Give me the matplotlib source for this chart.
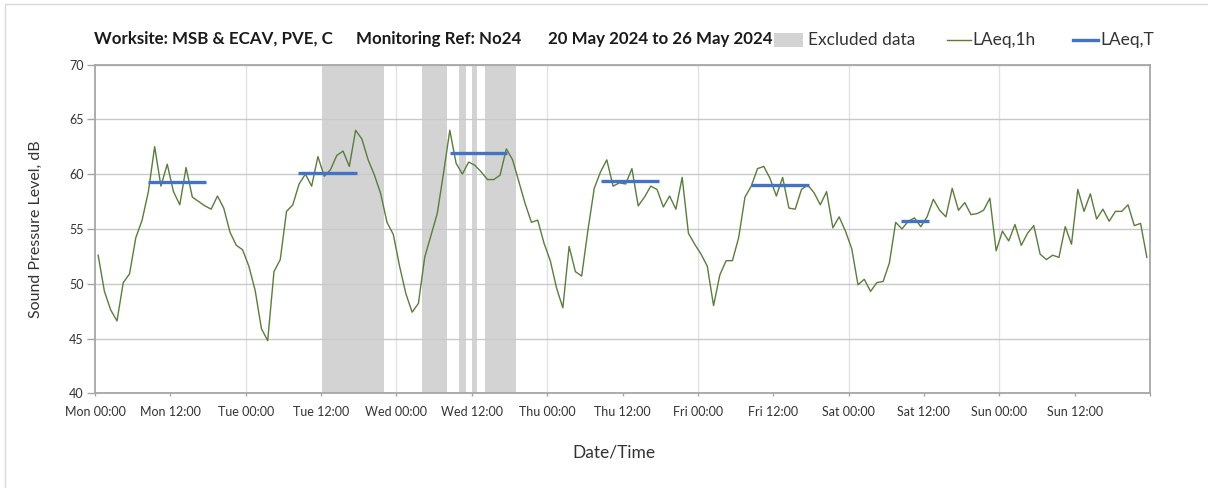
import numpy as np
import matplotlib
matplotlib.use("Agg")
import matplotlib.pyplot as plt
from matplotlib.patches import Rectangle
from matplotlib.lines import Line2D

plt.rcParams['font.family'] = ['Lato', 'DejaVu Sans']

# ---------------- data ----------------
laeq_1h = [
    52.6, 49.3, 47.6, 46.6, 50.1, 50.9, 54.2, 55.8, 58.4, 62.5, 58.9, 60.9,
    58.4, 57.2, 60.6, 57.9, 57.5, 57.1, 56.8, 58.0, 56.9, 54.7, 53.5, 53.1,
    51.6, 49.4, 45.9, 44.8, 51.1, 52.2, 56.6, 57.2, 59.1, 60.0, 58.9, 61.6,
    59.8, 60.4, 61.7, 62.1, 60.7, 64.0, 63.2, 61.3, 59.9, 58.2, 55.6, 54.5,
    51.6, 49.1, 47.4, 48.2, 52.4, 54.4, 56.4, 60.1, 64.0, 61.0, 60.0, 61.1,
    60.8, 60.2, 59.5, 59.5, 59.9, 62.3, 61.3, 59.3, 57.3, 55.6, 55.8, 53.7,
    52.1, 49.6, 47.8, 53.4, 51.1, 50.7, 54.9, 58.7, 60.2, 61.3, 58.9, 59.2,
    59.1, 60.5, 57.1, 57.9, 58.9, 58.6, 57.0, 58.0, 56.8, 59.7, 54.6, 53.6,
    52.7, 51.6, 48.0, 50.8, 52.1, 52.1, 54.2, 57.9, 58.9, 60.5, 60.7, 59.6,
    58.0, 59.7, 56.9, 56.8, 58.6, 59.0, 58.3, 57.2, 58.4, 55.1, 56.1, 54.8,
    53.2, 49.9, 50.4, 49.3, 50.1, 50.2, 51.9, 55.6, 55.0, 55.7, 56.0, 55.2,
    56.1, 57.7, 56.7, 56.1, 58.7, 56.7, 57.4, 56.3, 56.4, 56.7, 57.8, 53.0,
    54.8, 53.9, 55.4, 53.5, 54.6, 55.3, 52.7, 52.2, 52.6, 52.4, 55.2, 53.6,
    58.6, 56.6, 58.2, 55.9, 56.8, 55.7, 56.6, 56.6, 57.2, 55.3, 55.5, 52.4,
]
hours = np.arange(len(laeq_1h)) + 0.5  # hour-centre positions from Mon 00:00

# LAeq,T (daytime period averages): start hour, end hour, level
laeqT_start = [8.4, 32.4, 56.5, 80.5, 104.5, 128.4]
laeqT_end = [17.7, 41.7, 65.6, 89.8, 113.7, 132.8]
laeqT_level = [59.3, 60.1, 61.9, 59.4, 59.0, 55.7]

# Excluded data periods (hours from Mon 00:00)
excl_start = [36.15, 52.1, 58.0, 60.0, 62.1]
excl_end = [46.0, 56.0, 59.1, 60.9, 67.0]

tick_labels = ["Mon 00:00", "Mon 12:00", "Tue 00:00", "Tue 12:00", "Wed 00:00",
               "Wed 12:00", "Thu 00:00", "Thu 12:00", "Fri 00:00", "Fri 12:00",
               "Sat 00:00", "Sat 12:00", "Sun 00:00", "Sun 12:00", ""]

title_parts = ["Worksite: MSB & ECAV, PVE, C", "Monitoring Ref: No24",
               "20 May 2024 to 26 May 2024"]

# ---------------- figure ----------------
W, H = 1208, 488
fig = plt.figure(figsize=(W / 100, H / 100), dpi=100)
fig.patch.set_facecolor('white')

def fx(px):
    return px / W

def fy(py):
    return 1 - py / H

ax = fig.add_axes([fx(95), fy(393.3), fx(1150) - fx(95), fy(64.5) - fy(393.3)])
ax.set_xlim(0, 168)
ax.set_ylim(40, 70)

for s, e in zip(excl_start, excl_end):
    ax.axvspan(s, e, color='#d3d3d3', lw=0, zorder=1)

ax.set_yticks(np.arange(40, 71, 5))
ax.set_xticks(np.arange(0, 169, 12))
ax.set_xticklabels(tick_labels)
ax.grid(axis='y', color='#c9c9c9', lw=1.0, zorder=0.5)
for d in range(24, 168, 24):
    ax.axvline(d, color='#e2e2e2', lw=1.0, zorder=0.5)

ax.plot(hours, laeq_1h, color='#5a7d3c', lw=1.0, zorder=3)
ax.hlines(laeqT_level, laeqT_start, laeqT_end, color='#4472C4', lw=2.4, zorder=4)

for sp in ax.spines.values():
    sp.set_color('#a6a6a6')
    sp.set_linewidth(1.3)

ax.tick_params(axis='x', direction='out', length=2.5, width=1, color='#a6a6a6',
               labelsize=9, labelcolor='#333333', pad=7)
ax.tick_params(axis='y', direction='out', length=6, width=1, color='#a6a6a6',
               labelsize=9, labelcolor='#333333', pad=2)

ax.set_ylabel("Sound Pressure Level, dB", fontsize=11.5, color='#333333', labelpad=19)
fig.text(fx(614), fy(453), "Date/Time", fontsize=12.5, color='#333333',
         ha='center', va='center')

# title pieces
for xp, t in zip([94, 356, 548], title_parts):
    fig.text(fx(xp), fy(39), t, fontsize=12.2, fontweight='bold', color='#1a1a1a',
             ha='left', va='center')

# legend (manual)
fig.add_artist(Rectangle((fx(774), fy(47)), fx(803) - fx(774), fy(33) - fy(47),
                         transform=fig.transFigure, color='#d3d3d3', lw=0))
fig.text(fx(808), fy(40), "Excluded data", fontsize=12.5, color='#333333', va='center')
fig.add_artist(Line2D([fx(947), fx(971)], [fy(40), fy(40)], transform=fig.transFigure,
                      color='#5a7d3c', lw=1.0))
fig.text(fx(972), fy(40), "LAeq,1h", fontsize=12.5, color='#333333', va='center')
fig.add_artist(Line2D([fx(1073), fx(1098)], [fy(40), fy(40)], transform=fig.transFigure,
                      color='#4472C4', lw=2.4))
fig.text(fx(1100), fy(40), "LAeq,T", fontsize=12.5, color='#333333', va='center')

# chart-area border
fig.add_artist(Rectangle((fx(5), fy(495)), fx(1215) - fx(5), fy(4) - fy(495),
                         transform=fig.transFigure, fill=False, edgecolor='#d9d9d9', lw=1.0))

fig.savefig("out.png", dpi=100)
